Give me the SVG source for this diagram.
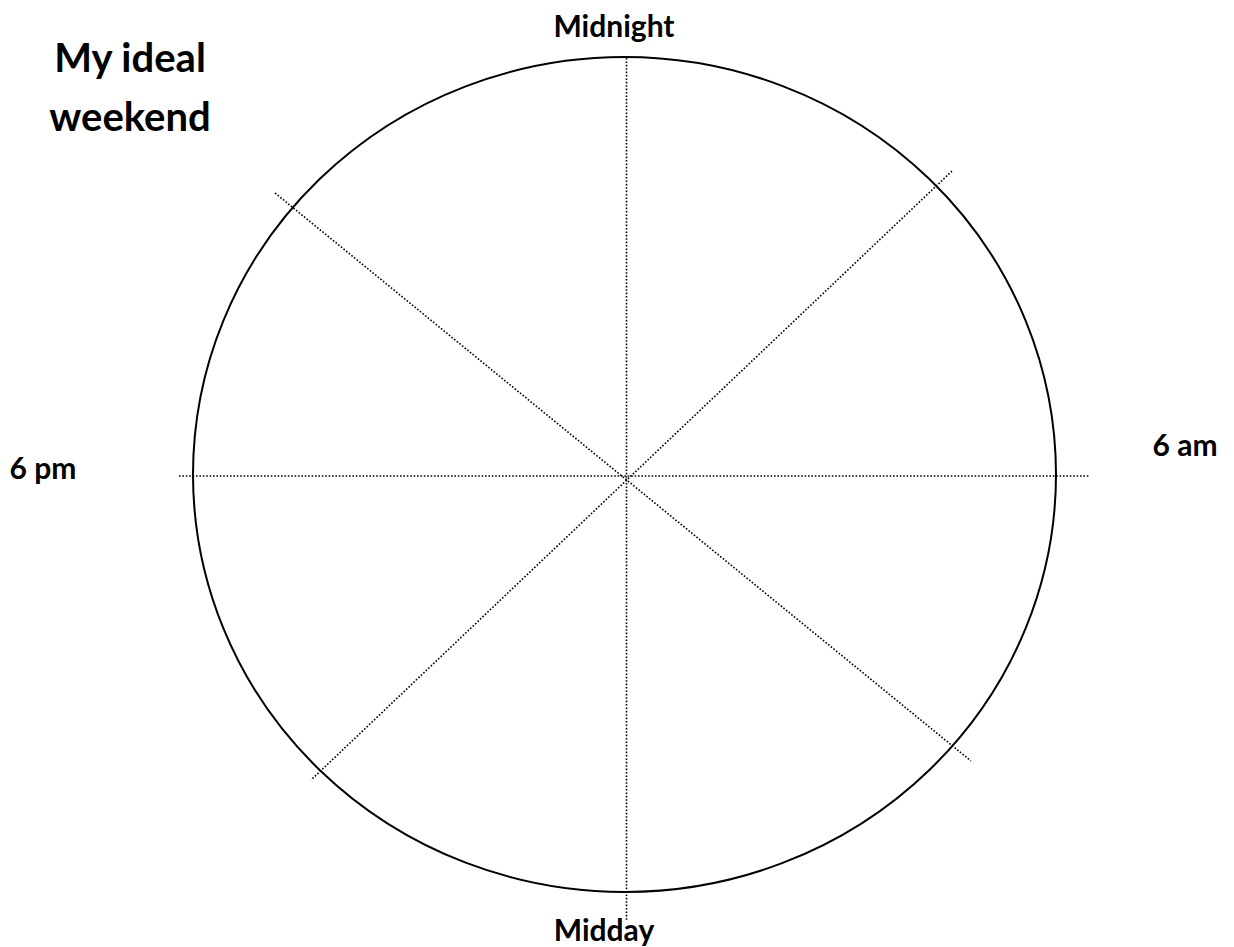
<svg xmlns="http://www.w3.org/2000/svg" width="1234" height="947" viewBox="0 0 1234 947">
<style>
.lbl{font-family:Lato,"Open Sans","Liberation Sans",sans-serif;font-weight:bold;font-size:30px;fill:#000}
.ttl{font-family:Lato,"Open Sans","Liberation Sans",sans-serif;font-weight:bold;font-size:40px;fill:#000}
.dot{stroke:#000;stroke-width:1.6;stroke-dasharray:1.6 1.8;fill:none}
</style>
<rect width="1234" height="947" fill="#fff"/>
<g id="connectors">
<line class="dot" x1="626.5" y1="58" x2="626.5" y2="920"/>
<line class="dot" x1="179" y1="476" x2="1090" y2="476"/>
<line class="dot" x1="275" y1="193" x2="971" y2="761"/>
<line class="dot" x1="952" y1="171" x2="311" y2="780"/>
</g>
<g id="clock">
<ellipse cx="624.5" cy="474.5" rx="431.5" ry="417.5" fill="none" stroke="#000" stroke-width="2"/>
</g>
<g id="title">
<text class="ttl" x="130" y="72" text-anchor="middle">My ideal</text>
<text class="ttl" x="130" y="131" text-anchor="middle">weekend</text>
</g>
<g id="label-midnight"><text class="lbl" x="614" y="37" text-anchor="middle">Midnight</text></g>
<g id="label-midday"><text class="lbl" x="604" y="941" text-anchor="middle">Midday</text></g>
<g id="label-6pm"><text class="lbl" x="43" y="479" text-anchor="middle">6 pm</text></g>
<g id="label-6am"><text class="lbl" x="1185" y="456" text-anchor="middle">6 am</text></g>
</svg>
